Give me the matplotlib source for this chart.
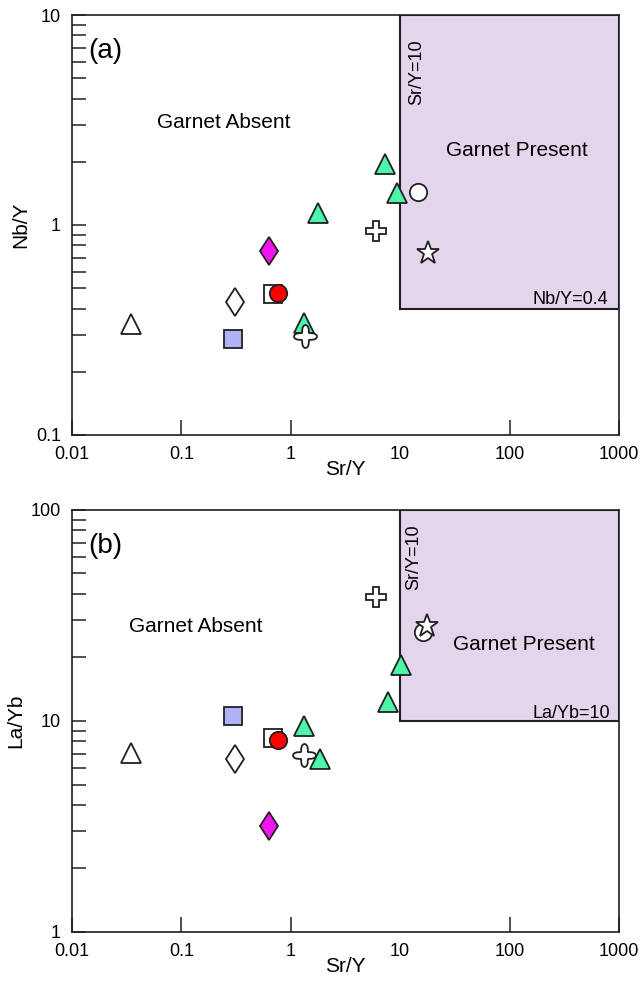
import matplotlib
matplotlib.use('Agg')
import matplotlib.pyplot as plt
import matplotlib.patches as mpatches
from matplotlib.path import Path
import numpy as np

plt.rcParams['font.family'] = ['Liberation Sans', 'DejaVu Sans']

# single samples (one point per panel), in drawing order
single_names = ['open triangle', 'blue square', 'open diamond', 'magenta diamond',
                'open square', 'red circle', 'quatrefoil', 'cross', 'open circle', 'star']
single_sry_a = [0.0346, 0.294, 0.307, 0.633, 0.684, 0.77, 1.35, 6.0, 14.6, 18.1]
single_nby = [0.338, 0.286, 0.431, 0.752, 0.469, 0.476, 0.297, 0.936, 1.43, 0.733]
single_sry_b = [0.035, 0.294, 0.31, 0.637, 0.69, 0.77, 1.33, 6.0, 16.1, 17.5]
single_layb = [7.07, 10.6, 6.58, 3.18, 8.33, 8.13, 6.9, 38.8, 26.5, 28.2]

# green triangles (four samples)
green_sry_a = [7.26, 9.4, 1.79, 1.32]
green_nby = [1.96, 1.42, 1.14, 0.343]
green_sry_b = [7.69, 10.2, 1.85, 1.32]
green_layb = [12.3, 18.4, 6.63, 9.47]

x_ticks = [0.01, 0.1, 1, 10, 100, 1000]
x_ticklabels = ['0.01', '0.1', '1', '10', '100', '1000']

EDGE = '#231f20'

# quatrefoil marker shape
th = np.linspace(0, 2 * np.pi, 181)
rr = 0.72 + 0.28 * np.cos(4 * th)
quatrefoil = Path(np.column_stack([rr * np.cos(th), rr * np.sin(th)]), closed=True)

styles = {
    'open triangle': dict(marker='^', ms=14, mfc='white'),
    'blue square': dict(marker='s', ms=12.5, mfc='#b0b2fa'),
    'open diamond': dict(marker='d', ms=14.5, mfc='white'),
    'magenta diamond': dict(marker='d', ms=14.5, mfc='#f514f0'),
    'open square': dict(marker='s', ms=12.5, mfc='white'),
    'red circle': dict(marker='o', ms=12.5, mfc='#ff0000'),
    'quatrefoil': dict(marker=quatrefoil, ms=16.5, mfc='white'),
    'cross': dict(marker='P', ms=14, mfc='white'),
    'open circle': dict(marker='o', ms=12.5, mfc='white'),
    'star': dict(marker='*', ms=17, mfc='white'),
    'green': dict(marker='^', ms=14, mfc='#4cf5aa'),
}


def setup(ax, ylim, yticklabels, ylabel, rect_y0):
    ax.set_xscale('log')
    ax.set_yscale('log')
    ax.set_xlim(0.01, 1000)
    ax.set_ylim(*ylim)
    ax.set_xticks(x_ticks)
    ax.set_xticklabels(x_ticklabels)
    ax.xaxis.set_minor_locator(matplotlib.ticker.NullLocator())
    yt = [ylim[0], ylim[0] * 10, ylim[1]]
    ax.set_yticks(yt)
    ax.set_yticklabels(yticklabels)
    ax.tick_params(axis='x', which='major', direction='in', length=11, width=1.1,
                   color=EDGE, labelsize=13, pad=8, top=False)
    ax.tick_params(axis='y', which='both', direction='in', length=10, width=1.1,
                   color=EDGE, labelsize=13, pad=8, right=False)
    ax.xaxis.get_major_ticks()[3].tick1line.set_visible(False)
    for s in ax.spines.values():
        s.set_color(EDGE)
        s.set_linewidth(1.2)
    ax.set_xlabel('Sr/Y', fontsize=15, labelpad=-2)
    ax.set_ylabel(ylabel, fontsize=15, labelpad=4)
    rect = mpatches.Rectangle((10, rect_y0), 1000 - 10, ylim[1] - rect_y0,
                              facecolor='#e2d5ec', edgecolor=EDGE, linewidth=1.5, zorder=1)
    ax.add_patch(rect)


def draw(ax, sx, sy, gx, gy, green_first):
    if green_first:
        ax.plot(gx, gy, ls='none', mec=EDGE, mew=1.3, zorder=3, **styles['green'])
    for name, x, y in zip(single_names, sx, sy):
        ax.plot([x], [y], ls='none', mec=EDGE, mew=1.3, zorder=3, **styles[name])
    if not green_first:
        ax.plot(gx, gy, ls='none', mec=EDGE, mew=1.3, zorder=3, **styles['green'])


fig = plt.figure(figsize=(6.42, 9.81), dpi=100)
ax1 = fig.add_axes([0.1121, 0.5566, 0.852, 0.4281])
ax2 = fig.add_axes([0.1121, 0.04995, 0.852, 0.4302])

setup(ax1, (0.1, 10), ['0.1', '1', '10'], 'Nb/Y', 0.4)
draw(ax1, single_sry_a, single_nby, green_sry_a, green_nby, True)
ax1.text(0.029, 0.914, '(a)', transform=ax1.transAxes, fontsize=20, ha='left', va='center')
ax1.text(0.155, 0.745, 'Garnet Absent', transform=ax1.transAxes, fontsize=15, ha='left', va='center')
ax1.text(0.684, 0.677, 'Garnet Present', transform=ax1.transAxes, fontsize=15, ha='left', va='center')
ax1.text(0.630, 0.863, 'Sr/Y=10', transform=ax1.transAxes, fontsize=13, rotation=90,
         ha='center', va='center')
ax1.text(0.980, 0.323, 'Nb/Y=0.4', transform=ax1.transAxes, fontsize=13, ha='right', va='center')

setup(ax2, (1, 100), ['1', '10', '100'], 'La/Yb', 10)
draw(ax2, single_sry_b, single_layb, green_sry_b, green_layb, False)
ax2.text(0.029, 0.915, '(b)', transform=ax2.transAxes, fontsize=20, ha='left', va='center')
ax2.text(0.105, 0.723, 'Garnet Absent', transform=ax2.transAxes, fontsize=15, ha='left', va='center')
ax2.text(0.697, 0.682, 'Garnet Present', transform=ax2.transAxes, fontsize=15, ha='left', va='center')
ax2.text(0.625, 0.889, 'Sr/Y=10', transform=ax2.transAxes, fontsize=13, rotation=90,
         ha='center', va='center')
ax2.text(0.984, 0.517, 'La/Yb=10', transform=ax2.transAxes, fontsize=13, ha='right', va='center')

fig.savefig('out.png', dpi=100)
